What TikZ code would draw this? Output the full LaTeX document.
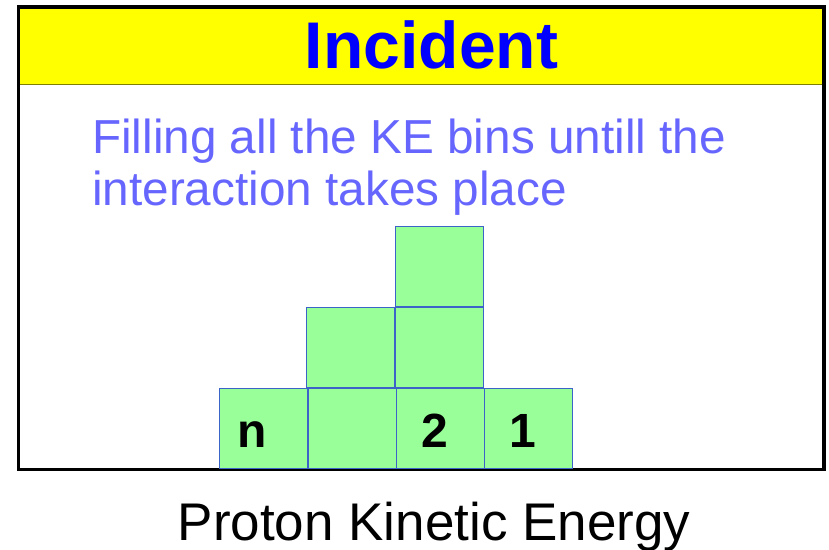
\documentclass[tikz,border=0pt]{standalone}
\usepackage{fontspec}
\setmainfont{Liberation Sans}
\definecolor{titleblue}{RGB}{0,0,255}
\definecolor{subblue}{RGB}{102,102,255}
\definecolor{bingreen}{RGB}{153,255,153}
\definecolor{binedge}{RGB}{60,100,200}
\definecolor{hdrline}{RGB}{128,128,0}
\definecolor{hdryellow}{RGB}{255,255,0}
\begin{document}
\begin{tikzpicture}[x=1pt,y=-1pt,
  bin/.style={draw=binedge,line width=0.9pt,fill=bingreen,minimum width=88pt,minimum height=80pt,inner sep=0pt,outer sep=0pt},
  binlabel/.style={font=\fontsize{48}{48}\selectfont\bfseries,anchor=base,inner sep=0pt},
  subtext/.style={font=\fontsize{47.7}{52}\selectfont,text=subblue,anchor=base west,inner sep=0pt}]
\useasboundingbox (0,0) rectangle (829,549);
% header
\fill[hdryellow] (20,8.5) rectangle (822.5,84.5);
\draw[hdrline,line width=1pt] (20,84.5) -- (822.5,84.5);
\node[font=\fontsize{66}{66}\selectfont\bfseries,text=titleblue,anchor=base,inner sep=0pt] (title) at (431.5,68) {Incident};
% frame
\draw[line width=3.5pt] (18.5,7) rectangle (824,469.5);
% subtitle
\node[subtext] (sub1) at (92,153) {Filling all the KE bins untill the};
\node[subtext] (sub2) at (92,205) {interaction takes place};
% bins
\node[bin] (b1) at (263.8,428.3) {};
\node[bin] (b2) at (352.1,428.3) {};
\node[bin] (b3) at (440.1,428.3) {};
\node[bin] (b4) at (528,428.3) {};
\node[bin] (m1) at (350.7,347) {};
\node[bin] (m2) at (439.7,347) {};
\node[bin] (t1) at (439.2,266.5) {};
% labels
\node[binlabel] (ln) at (251.7,447.5) {n};
\node[binlabel] (l2) at (434.7,447.5) {2};
\node[binlabel] (l1) at (522.5,447.5) {1};
% axis label
\node[font=\fontsize{53}{53}\selectfont,anchor=base,inner sep=0pt] (axis) at (434,540) {Proton Kinetic Energy};
\end{tikzpicture}
\end{document}
